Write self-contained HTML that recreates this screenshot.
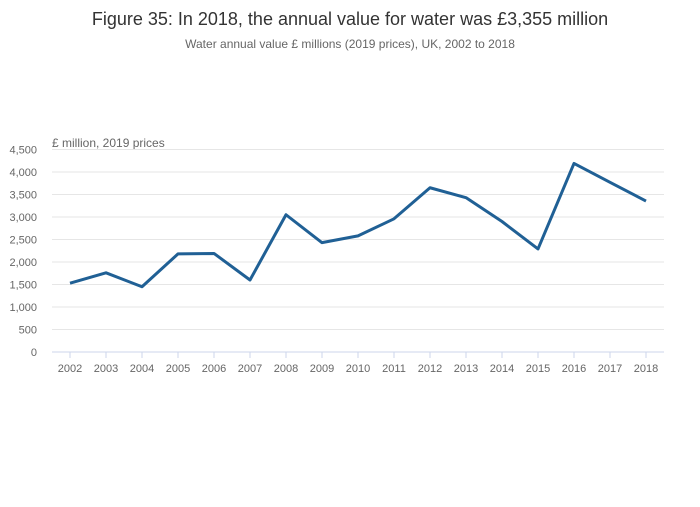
<!DOCTYPE html>
<html><head><meta charset="utf-8"><style>
body{margin:0;background:#fff;font-family:"Liberation Sans",sans-serif;}
svg text{font-family:"Liberation Sans",sans-serif;}
</style></head><body>
<svg width="700" height="502" id="c">
<text x="350" y="25" text-anchor="middle" font-size="18" fill="#333">Figure 35: In 2018, the annual value for water was £3,355 million</text>
<text x="350" y="48" text-anchor="middle" font-size="12" fill="#666">Water annual value £ millions (2019 prices), UK, 2002 to 2018</text>
<text x="52" y="147" font-size="12" fill="#666">£ million, 2019 prices</text>
<g id="grid"></g><g id="xax"></g><g id="lines"></g>
</svg>
<script>
const years=[2002,2003,2004,2005,2006,2007,2008,2009,2010,2011,2012,2013,2014,2015,2016,2017,2018];
const values=[1530,1760,1450,2180,2190,1600,3050,2430,2580,2960,3650,3430,2900,2290,4190,3770,3355];
const yTicks=[0,500,1000,1500,2000,2500,3000,3500,4000,4500];
const ns="http://www.w3.org/2000/svg";
const y0=352,y1=149.5,ymax=4500,xl=52,xr=664,x0=70,xstep=36;
const ys=v=>y0-(v/ymax)*(y0-y1);
const xs=i=>x0+i*xstep;
function mk(t,a,p){const e=document.createElementNS(ns,t);for(const k in a)e.setAttribute(k,a[k]);p.appendChild(e);return e;}
const g=document.getElementById('grid');
yTicks.forEach(v=>{
 if(v>0){const l=mk('line',{x1:xl,x2:xr,y1:ys(v),y2:ys(v),stroke:'#e6e6e6','stroke-width':1},g);
 
 }
 const t=mk('text',{x:37,y:ys(v)+4,'text-anchor':'end','font-size':11,fill:'#666'},g);
 t.textContent=v.toLocaleString('en-GB');
 
 
});
const xa=document.getElementById('xax');
const ax=mk('line',{x1:xl,x2:xr,y1:y0,y2:y0,stroke:'#ccd6eb','stroke-width':1},xa);


years.forEach((yr,i)=>{
 const tk=mk('line',{x1:xs(i),x2:xs(i),y1:y0,y2:y0+6,stroke:'#ccd6eb'},xa);
 
 
 const t=mk('text',{x:xs(i),y:372,'text-anchor':'middle','font-size':11,fill:'#666'},xa);
 t.textContent=yr;
 
 
});
const p=mk('polyline',{points:values.map((v,i)=>xs(i)+','+ys(v)).join(' '),fill:'none',stroke:'#206095','stroke-width':3,'stroke-linejoin':'round'},document.getElementById('lines'));


</script>
</body></html>
